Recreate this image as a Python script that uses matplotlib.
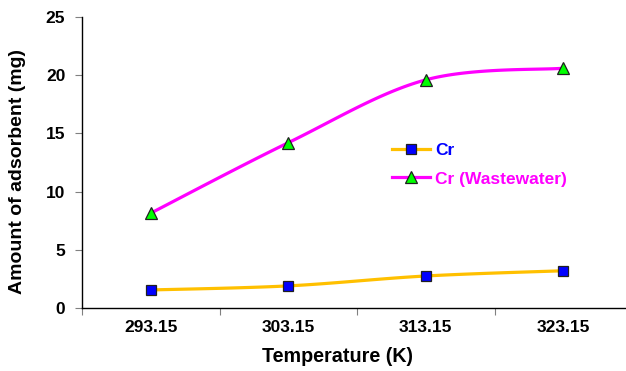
import numpy as np
import matplotlib
matplotlib.use("Agg")
import matplotlib.pyplot as plt
from matplotlib.ticker import FixedLocator, FixedFormatter, NullFormatter

plt.rcParams["font.family"] = ["Liberation Sans", "DejaVu Sans"]
plt.rcParams["font.weight"] = "bold"

temps = ["293.15", "303.15", "313.15", "323.15"]
cr = [1.55, 1.9, 2.75, 3.2]
cr_ww = [8.15, 14.2, 19.6, 20.6]


def excel_smooth(y, n=40):
    # cubic bezier through each point, control points from neighbours (like Excel's smoothed line)
    x = np.arange(len(y), dtype=float)
    P = np.column_stack([x, np.asarray(y, float)])
    Pe = np.vstack([P[0], P, P[-1]])
    out = []
    t = np.linspace(0, 1, n)[:, None]
    for i in range(len(P) - 1):
        p0, p1 = Pe[i + 1], Pe[i + 2]
        c1 = p0 + (Pe[i + 2] - Pe[i]) / 6
        c2 = p1 - (Pe[i + 3] - Pe[i + 1]) / 6
        seg = (1 - t) ** 3 * p0 + 3 * (1 - t) ** 2 * t * c1 + 3 * (1 - t) * t ** 2 * c2 + t ** 3 * p1
        out.append(seg if i == 0 else seg[1:])
    s = np.vstack(out)
    return s[:, 0], s[:, 1]


W, H = 626, 371
fig = plt.figure(figsize=(W / 100, H / 100), dpi=100)
# plot area runs a little past the right edge of the canvas
ax = fig.add_axes([82 / W, (H - 308) / H, 550 / W, 291 / H])

idx = np.arange(len(temps))
ax.set_xlim(-0.5, len(temps) - 0.5)
ax.set_ylim(0, 25)
ax.xaxis.set_major_locator(FixedLocator(np.arange(len(temps) + 1) - 0.5))
ax.xaxis.set_major_formatter(NullFormatter())
ax.xaxis.set_minor_locator(FixedLocator(idx))
ax.xaxis.set_minor_formatter(FixedFormatter(temps))
ax.tick_params(axis="x", which="major", direction="out", length=5, width=0.8, color="#808080")
ax.tick_params(axis="x", which="minor", length=0, pad=9, labelsize=12.5)
ax.set_yticks([0, 5, 10, 15, 20, 25])
ax.tick_params(axis="y", direction="out", length=5, width=0.8, color="#808080", pad=7, labelsize=12.5)
for s in ["top", "right"]:
    ax.spines[s].set_visible(False)
for s in ["left", "bottom"]:
    ax.spines[s].set_linewidth(1.0)

ax.set_xlabel("Temperature (K)", fontsize=14.2, fontweight="bold")
ax.xaxis.set_label_coords(0.464, -0.134)
ax.set_ylabel("Amount of adsorbent (mg)", fontsize=14, fontweight="bold")
ax.yaxis.set_label_coords(-0.102, 0.47)

for vals, lc, mk, mc, ms, name in [
    (cr, "#FFC000", "s", "#0000FF", 7, "Cr"),
    (cr_ww, "#FF00FF", "^", "#00FF00", 8, "Cr (Wastewater)"),
]:
    sx, sy = excel_smooth(vals)
    ax.plot(sx, sy, color=lc, lw=2.3, solid_capstyle="butt", zorder=2)
    ax.plot(idx, vals, ls="none", marker=mk, ms=ms, mfc=mc, mec="#202020", mew=0.9, zorder=3)
    ax.plot([], [], color=lc, lw=2.3, marker=mk, ms=ms, mfc=mc, mec="#202020", mew=0.9, label=name)

leg = ax.legend(loc="upper left", bbox_to_anchor=(0.535, 0.62), frameon=False,
                handlelength=2.2, handletextpad=0.3, labelspacing=0.75,
                prop={"weight": "bold", "size": 12.5})
for txt, c in zip(leg.get_texts(), ["#0000FF", "#FF00FF"]):
    txt.set_color(c)

fig.savefig("out.png", dpi=100, facecolor="white")
